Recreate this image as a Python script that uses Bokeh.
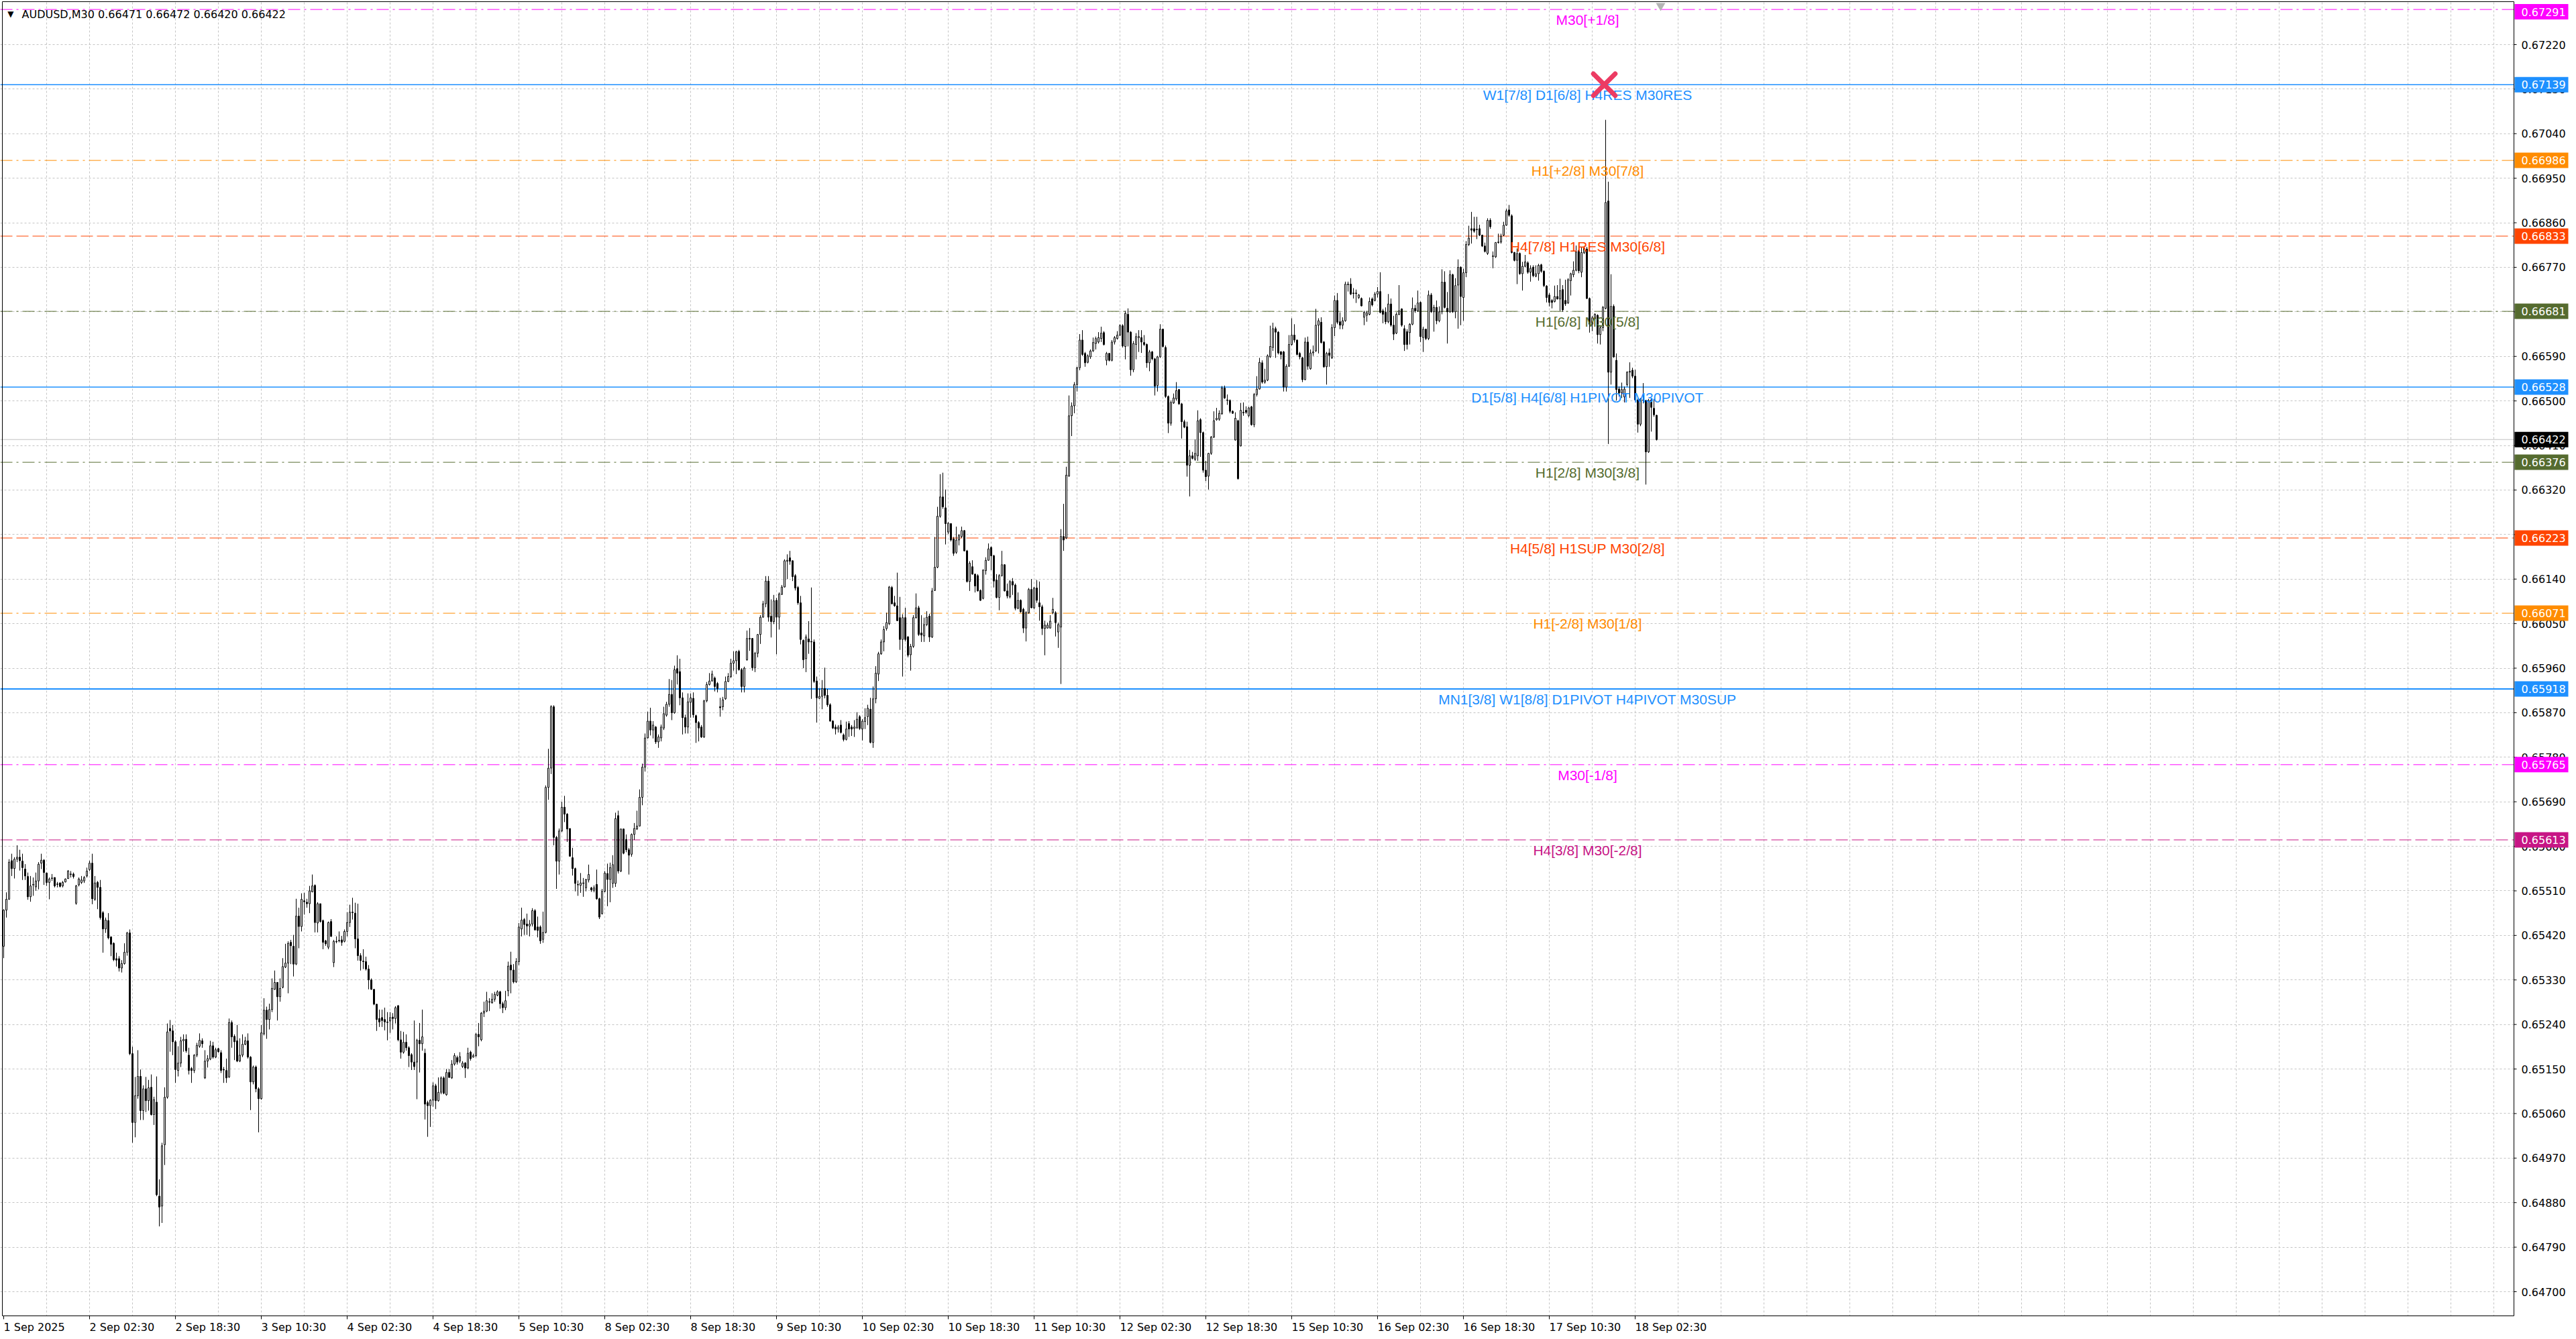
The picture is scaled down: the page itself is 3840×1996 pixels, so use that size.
from bokeh.plotting import figure
from bokeh.models import Span, FixedTicker, ColumnDataSource, Grid
from bokeh.core.properties import value
from bokeh.embed import file_html
from bokeh.resources import INLINE

chart_title = "AUDUSD,M30  0.66471 0.66472 0.66420 0.66422"

# OHLC of each M30 bar, in price points (1 point = 0.00001)
open_pts = [
65398,65471,65493,65571,65555,65574,65578,65570,65554,65539,
65498,65522,65518,65530,65566,65572,65546,65527,65535,65537,
65524,65526,65520,65528,65535,65544,65544,65485,65522,65527,
65530,65540,65553,65566,65493,65527,65517,65466,65433,65450,
65417,65404,65373,65373,65354,65363,65386,65425,65181,65042,
65096,65135,65066,65110,65086,65113,65058,65083,64893,64873,
64997,65093,65232,65227,65205,65147,65162,65207,65210,65178,
65151,65147,65178,65196,65207,65132,65166,65170,65197,65174,
65191,65183,65149,65147,65134,65244,65216,65207,65166,65178,
65200,65207,65174,65124,65154,65110,65090,65221,65269,65250,
65270,65311,65325,65296,65315,65356,65364,65406,65398,65362,
65459,65438,65490,65487,65484,65508,65521,65445,65484,65450,
65409,65396,65448,65365,65408,65410,65411,65408,65428,65446,
65467,65465,65413,65379,65368,65367,65352,65330,65311,65281,
65252,65254,65250,65245,65247,65255,65252,65278,65209,65184,
65204,65193,65179,65164,65164,65208,65201,65182,65082,65076,
65087,65116,65086,65103,65132,65098,65143,65132,65160,65173,
65166,65155,65162,65152,65184,65174,65177,65220,65209,65263,
65267,65286,65284,65291,65299,65306,65282,65274,65308,65360,
65350,65326,65367,65433,65452,65443,65439,65443,65470,65437,
65437,65412,65426,65719,65758,65882,65618,65570,65631,65679,
65665,65636,65577,65555,65523,65521,65526,65516,65532,65516,
65511,65523,65494,65464,65509,65545,65533,65525,65525,65662,
65550,65635,65614,65593,65584,65624,65635,65641,65699,65760,
65819,65853,65835,65841,65811,65819,65839,65865,65887,65907,
65870,65959,65953,65900,65860,65841,65891,65899,65864,65850,
65841,65821,65894,65927,65934,65940,65929,65882,65882,65898,
65933,65943,65970,65975,65994,65957,65923,65977,66020,66020,
65961,65990,66028,66063,66090,66136,66065,66054,66097,66063,
66109,66124,66176,66183,66177,66147,66123,66092,66016,65979,
66019,66014,66013,65934,65899,65903,65919,65905,65886,65853,
65841,65837,65845,65825,65816,65848,65841,65838,65839,65862,
65837,65852,65862,65877,65810,65898,65948,65989,66013,66040,
66050,66123,66092,66086,66062,66018,66062,66023,65987,66004,
66062,66082,66031,66025,66048,66065,66023,66117,66164,66267,
66306,66284,66235,66252,66221,66194,66219,66226,66238,66197,
66135,66165,66150,66147,66117,66101,66157,66178,66204,66187,
66138,66103,66147,66169,66116,66104,66135,66128,66081,66097,
66079,66041,66072,66119,66082,66122,66092,66084,66040,66041,
66041,66072,66072,66033,66043,66226,66223,66348,66470,66490,
66533,66567,66623,66596,66578,66589,66601,66616,66619,66626,
66638,66582,66596,66582,66619,66626,66633,66652,66610,66675,
66639,66563,66614,66628,66628,66618,66614,66577,66599,66585,
66531,66589,66645,66608,66509,66455,66496,66504,66523,66494,
66458,66448,66370,66389,66382,66389,66462,66436,66360,66348,
66394,66427,66462,66463,66474,66526,66502,66501,66479,66421,
66460,66409,66477,66481,66470,66488,66452,66513,66524,66577,
66538,66542,66589,66608,66646,66639,66599,66599,66528,66570,
66614,66633,66623,66596,66587,66543,66619,66565,66597,66601,
66653,66659,66619,66569,66597,66587,66648,66703,66660,66653,
66662,66736,66736,66718,66718,66709,66707,66669,66673,66675,
66706,66703,66716,66721,66682,66679,66660,66696,66653,66637,
66675,66686,66646,66640,66638,66655,66687,66682,66699,66628,
66645,66626,66714,66680,66689,66662,66680,66740,66687,66680,
66755,66680,66734,66770,66709,66759,66816,66848,66848,66847,
66848,66835,66813,66798,66865,66793,66791,66821,66821,66835,
66855,66886,66874,66800,66784,66798,66757,66772,66779,66760,
66770,66752,66757,66775,66762,66732,66714,66703,66701,66711,
66706,66725,66703,66698,66743,66755,66764,66804,66760,66799,
66807,66707,66655,66666,66673,66634,66648,66687,66904,66558,
66691,66582,66524,66516,66508,66533,66558,66562,66550,66502,
66453,66502,66501,66397,66502,66485,66471]

high_pts = [
65473,65507,65574,65585,65578,65602,65593,65585,65564,65547,
65540,65537,65547,65568,65585,65574,65547,65537,65544,65537,
65528,65527,65530,65535,65552,65550,65547,65522,65537,65540,
65540,65557,65571,65585,65540,65530,65532,65469,65456,65465,
65418,65406,65385,65378,65370,65404,65427,65432,65195,65134,
65188,65149,65117,65134,65128,65139,65094,65135,64927,65001,
65113,65242,65249,65239,65208,65196,65215,65220,65220,65193,
65154,65180,65203,65222,65212,65188,65178,65207,65205,65193,
65193,65188,65154,65171,65252,65248,65220,65239,65212,65220,
65215,65222,65176,65157,65157,65113,65239,65293,65276,65282,
65333,65349,65325,65333,65374,65403,65408,65411,65421,65494,
65476,65505,65506,65494,65520,65543,65523,65487,65484,65452,
65411,65448,65453,65411,65418,65428,65419,65432,65467,65482,
65496,65486,65484,65384,65392,65377,65360,65333,65311,65281,
65270,65270,65274,65265,65265,65263,65277,65279,65227,65225,
65220,65196,65182,65248,65211,65243,65270,65191,65086,65089,
65123,65120,65133,65135,65135,65150,65150,65168,65182,65177,
65184,65166,65164,65193,65187,65181,65223,65243,65265,65286,
65306,65293,65303,65306,65309,65308,65286,65308,65367,65387,
65362,65374,65445,65476,65455,65464,65451,65475,65473,65458,
65440,65468,65723,65797,65885,65885,65621,65636,65690,65702,
65667,65636,65597,65557,65531,65546,65536,65534,65563,65518,
65521,65553,65496,65514,65550,65565,65567,65582,65668,65672,
65636,65636,65624,65597,65626,65647,65672,65715,65767,65828,
65872,65880,65853,65843,65826,65846,65882,65892,65938,65936,
65965,65986,65979,65911,65866,65909,65909,65911,65866,65853,
65845,65896,65932,65950,65955,65943,65932,65900,65902,65943,
65950,65979,65994,65995,65997,65960,65963,66036,66041,66021,
65993,66029,66067,66096,66146,66146,66099,66108,66102,66113,
66128,66180,66190,66197,66178,66150,66126,66106,66018,66028,
66055,66123,66018,65943,65919,65936,65961,65918,65889,65855,
65846,65845,65855,65828,65852,65853,65845,65855,65871,65865,
65857,65879,65886,65900,65923,65964,65993,66018,66045,66072,
66126,66126,66106,66153,66104,66069,66082,66025,66009,66067,
66111,66086,66067,66062,66075,66070,66122,66225,66286,66352,
66355,66321,66255,66253,66225,66246,66231,66246,66239,66199,
66176,66178,66151,66150,66119,66160,66184,66212,66206,66189,
66150,66150,66197,66170,66131,66138,66142,66131,66113,66099,
66082,66075,66122,66140,66124,66138,66135,66088,66056,66052,
66067,66102,66075,66052,66241,66292,66367,66511,66497,66538,
66569,66635,66643,66599,66594,66604,66628,66630,66639,66650,
66641,66599,66597,66623,66631,66641,66655,66655,66682,66687,
66641,66621,66637,66643,66643,66633,66616,66603,66601,66587,
66591,66655,66646,66612,66511,66501,66515,66538,66524,66496,
66462,66458,66401,66397,66422,66481,66465,66438,66379,66395,
66429,66479,66486,66481,66530,66531,66513,66503,66481,66477,
66462,66496,66497,66489,66488,66490,66516,66550,66587,66582,
66565,66594,66652,66658,66650,66641,66601,66601,66574,66633,
66667,66655,66624,66599,66589,66628,66630,66604,66612,66686,
66667,66669,66621,66599,66606,66655,66713,66718,66679,66669,
66741,66741,66748,66728,66725,66716,66709,66682,66682,66709,
66709,66720,66730,66760,66686,66689,66716,66707,66672,66679,
66734,66687,66653,66645,66657,66709,66694,66723,66701,66650,
66646,66723,66718,66694,66703,66691,66766,66762,66720,66764,
66757,66748,66786,66772,66767,66823,66854,66882,66872,66872,
66856,66836,66820,66869,66869,66802,66821,66838,66838,66862,
66888,66896,66877,66801,66808,66800,66781,66795,66782,66774,
66774,66774,66777,66777,66764,66734,66718,66706,66733,66734,
66747,66734,66745,66748,66759,66782,66814,66807,66811,66813,
66811,66709,66672,66677,66675,66653,66692,67068,66943,66756,
66695,66596,66529,66537,66529,66560,66578,66567,66563,66506,
66506,66536,66502,66504,66506,66504,66472]

low_pts = [
65374,65456,65492,65540,65535,65568,65551,65532,65532,65492,
65488,65500,65510,65513,65554,65522,65520,65493,65530,65517,
65517,65517,65517,65527,65534,65537,65535,65482,65519,65524,
65526,65537,65550,65483,65490,65473,65452,65385,65425,65412,
65378,65368,65357,65347,65345,65361,65379,65178,65001,65012,
65090,65047,65047,65063,65066,65056,65037,64893,64832,64839,
64956,65090,65185,65178,65122,65135,65154,65185,65183,65139,
65122,65142,65174,65193,65193,65130,65153,65168,65171,65172,
65183,65142,65122,65122,65132,65193,65168,65164,65164,65174,
65198,65171,65067,65119,65103,65022,65088,65218,65211,65230,
65265,65310,65248,65286,65313,65354,65303,65362,65337,65360,
65394,65428,65462,65476,65465,65507,65426,65426,65446,65392,
65399,65392,65417,65356,65404,65406,65399,65406,65418,65437,
65452,65394,65369,65349,65352,65349,65311,65310,65279,65227,
65235,65235,65228,65208,65223,65230,65242,65206,65171,65181,
65187,65154,65148,65148,65089,65143,65187,65048,65013,65033,
65074,65069,65084,65099,65099,65096,65132,65130,65157,65159,
65162,65152,65132,65150,65167,65173,65174,65196,65206,65255,
65265,65267,65282,65286,65297,65272,65263,65269,65297,65303,
65323,65324,65360,65418,65421,65421,65418,65438,65430,65416,
65403,65405,65424,65694,65746,65602,65514,65543,65629,65649,
65609,65579,65541,65509,65500,65506,65498,65509,65527,65508,
65507,65492,65453,65462,65507,65479,65487,65516,65518,65545,
65548,65584,65588,65543,65579,65613,65633,65640,65683,65751,
65818,65824,65818,65807,65799,65812,65835,65862,65882,65855,
65868,65927,65885,65826,65828,65828,65860,65860,65809,65812,
65819,65819,65891,65925,65933,65913,65911,65862,65875,65896,
65932,65940,65955,65948,65955,65911,65911,65975,65995,65955,
65952,65982,66009,66062,66083,66054,66022,66049,65988,66038,
66108,66123,66140,66169,66136,66117,66088,66008,65960,65952,
65989,65898,65930,65850,65898,65877,65899,65882,65852,65837,
65826,65830,65828,65812,65814,65821,65823,65821,65838,65835,
65814,65837,65845,65808,65799,65889,65934,65987,65994,66036,
66047,66089,66084,66055,65997,65943,66014,65982,65955,66001,
66060,66025,66013,66013,66045,66013,66021,66116,66162,66264,
66282,66210,66231,66216,66187,66191,66208,66223,66196,66133,
66116,66149,66113,66115,66096,66099,66149,66177,66158,66123,
66101,66077,66145,66115,66101,66101,66108,66077,66079,66072,
66031,66014,66070,66081,66079,66092,66056,66027,65986,66040,
66040,66069,66024,66001,65928,66197,66221,66347,66429,66475,
66519,66562,66591,66569,66576,66585,66599,66604,66616,66619,
66612,66572,66580,66580,66614,66624,66631,66608,66584,66610,
66551,66558,66584,66599,66597,66611,66567,66560,66582,66511,
66519,66587,66608,66506,66435,66450,66494,66501,66492,66424,
66445,66347,66307,66382,66379,66379,66387,66355,66338,66321,
66391,66425,66460,66460,66472,66504,66492,66475,66474,66420,
66341,66408,66470,66474,66467,66450,66447,66509,66523,66535,
66535,66540,66587,66601,66587,66594,66584,66519,66519,66569,
66612,66618,66592,66584,66538,66542,66563,66563,66591,66599,
66596,66616,66567,66533,66569,66585,66631,66655,66645,66645,
66660,66721,66714,66707,66698,66706,66691,66653,66660,66673,
66691,66701,66709,66677,66657,66655,66657,66650,66623,66635,
66673,66650,66601,66604,66614,66653,66678,66680,66619,66599,
66623,66623,66678,66640,66655,66659,66675,66687,66616,66678,
66678,66667,66646,66653,66662,66750,66813,66818,66840,66827,
66833,66811,66800,66795,66848,66768,66789,66818,66818,66833,
66854,66872,66798,66782,66736,66755,66723,66770,66757,66741,
66750,66750,66743,66759,66730,66699,66691,66687,66699,66705,
66682,66680,66692,66696,66713,66750,66762,66758,66750,66797,
66706,66638,66641,66658,66616,66614,66641,66685,66413,66533,
66587,66501,66509,66506,66497,66529,66506,66546,66501,66436,
66449,66495,66331,66395,66438,66468,66420]

close_pts = [
65471,65493,65568,65555,65574,65578,65571,65557,65540,65498,
65520,65523,65530,65564,65572,65547,65527,65534,65536,65520,
65523,65519,65527,65534,65550,65543,65539,65520,65534,65532,
65537,65550,65566,65494,65526,65517,65456,65433,65451,65415,
65402,65371,65370,65354,65363,65386,65425,65181,65042,65096,
65135,65066,65110,65086,65112,65058,65088,64896,64871,64995,
65093,65225,65227,65205,65149,65162,65207,65210,65187,65147,
65147,65178,65198,65208,65201,65166,65171,65197,65174,65189,
65185,65147,65148,65132,65244,65215,65205,65166,65178,65200,
65207,65174,65124,65154,65110,65090,65223,65269,65250,65270,
65313,65325,65296,65313,65357,65364,65404,65399,65362,65459,
65438,65493,65488,65484,65510,65520,65446,65484,65448,65406,
65403,65446,65418,65408,65407,65409,65406,65428,65446,65467,
65466,65413,65379,65369,65367,65352,65330,65311,65281,65250,
65245,65248,65245,65244,65254,65252,65274,65209,65184,65204,
65193,65177,65164,65155,65208,65201,65215,65079,65076,65087,
65116,65086,65103,65132,65101,65143,65133,65160,65177,65164,
65175,65162,65152,65182,65171,65177,65220,65215,65263,65267,
65288,65285,65291,65301,65306,65282,65274,65288,65358,65350,
65326,65367,65437,65451,65442,65439,65443,65470,65431,65430,
65409,65426,65719,65758,65882,65618,65570,65631,65679,65665,
65635,65580,65555,65525,65522,65526,65525,65533,65543,65512,
65516,65494,65457,65509,65546,65533,65557,65563,65656,65550,
65635,65586,65593,65582,65624,65636,65641,65699,65760,65819,
65853,65835,65845,65811,65821,65841,65868,65887,65907,65870,
65957,65950,65900,65860,65841,65892,65900,65866,65850,65839,
65821,65894,65927,65934,65948,65923,65919,65880,65896,65933,
65943,65970,65975,65993,65957,65923,65960,66020,66019,65961,
65990,66028,66063,66090,66136,66063,66054,66096,66063,66110,
66124,66177,66178,66176,66145,66122,66092,66018,65977,66023,
66013,66013,65933,65900,65903,65919,65905,65886,65853,65839,
65837,65841,65830,65816,65837,65837,65837,65841,65857,65838,
65853,65860,65879,65810,65898,65950,65989,66013,66038,66052,
66124,66090,66086,66056,66018,66062,66018,65986,66004,66062,
66082,66028,66027,66048,66063,66023,66116,66164,66267,66306,
66286,66252,66253,66219,66192,66219,66228,66238,66197,66135,
66172,66150,66126,66116,66097,66158,66178,66201,66187,66136,
66103,66147,66169,66116,66106,66135,66128,66081,66097,66074,
66041,66072,66119,66082,66122,66097,66084,66040,66047,66047,
66055,66079,66052,66048,66226,66219,66350,66470,66490,66533,
66567,66623,66594,66577,66591,66601,66618,66626,66628,66637,
66614,66596,66582,66619,66628,66633,66652,66611,66677,66639,
66563,66616,66630,66630,66619,66614,66577,66599,66585,66530,
66589,66645,66610,66509,66455,66497,66506,66521,66494,66458,
66447,66370,66389,66384,66394,66460,66436,66360,66347,66394,
66427,66460,66465,66475,66526,66506,66501,66479,66475,66465,
66343,66481,66476,66477,66486,66452,66513,66524,66578,66538,
66542,66591,66610,66646,66639,66597,66594,66528,66570,66614,
66633,66623,66594,66589,66543,66619,66570,66597,66599,66653,
66662,66618,66569,66596,66592,66648,66703,66659,66653,66662,
66736,66735,66716,66717,66717,66714,66692,66679,66678,66701,
66694,66716,66721,66679,66675,66660,66696,66653,66635,66675,
66682,66653,66614,66614,66655,66687,66682,66698,66630,66645,
66626,66714,66680,66689,66662,66680,66740,66689,66680,66755,
66680,66733,66770,66711,66759,66816,66829,66845,66843,66846,
66835,66813,66802,66865,66852,66792,66820,66820,66833,66855,
66884,66875,66800,66784,66798,66757,66772,66781,66760,66768,
66753,66757,66774,66762,66733,66709,66699,66699,66711,66706,
66723,66684,66696,66745,66757,66764,66801,66763,66800,66809,
66707,66655,66668,66675,66634,66648,66689,66901,66558,66691,
66589,66523,66516,66523,66524,66558,66560,66550,66502,66453,
66504,66501,66397,66501,66487,66472,66422]

time_tick_bars = [0, 32, 64, 96, 128, 160, 192, 224, 256, 288,
                  320, 352, 384, 416, 448, 480, 512, 544, 576, 608]
time_tick_labels = ["1 Sep 2025", "2 Sep 02:30", "2 Sep 18:30", "3 Sep 10:30",
                    "4 Sep 02:30", "4 Sep 18:30", "5 Sep 10:30", "8 Sep 02:30",
                    "8 Sep 18:30", "9 Sep 10:30", "10 Sep 02:30", "10 Sep 18:30",
                    "11 Sep 10:30", "12 Sep 02:30", "12 Sep 18:30", "15 Sep 10:30",
                    "16 Sep 02:30", "16 Sep 18:30", "17 Sep 10:30", "18 Sep 02:30"]

price_ticks = [0.64700, 0.64790, 0.64880, 0.64970, 0.65060, 0.65150, 0.65240,
               0.65330, 0.65420, 0.65510, 0.65600, 0.65690, 0.65780, 0.65870,
               0.65960, 0.66050, 0.66140, 0.66230, 0.66320, 0.66410, 0.66500,
               0.66590, 0.66680, 0.66770, 0.66860, 0.66950, 0.67040, 0.67130,
               0.67220]
price_tick_labels = ["%.5f" % t for t in price_ticks]

level_prices = [0.67291, 0.67139, 0.66986, 0.66833, 0.66681, 0.66528,
                0.66376, 0.66223, 0.66071, 0.65918, 0.65765, 0.65613]
level_names = ["M30[+1/8]", "W1[7/8] D1[6/8] H4RES M30RES", "H1[+2/8] M30[7/8]",
               "H4[7/8] H1RES M30[6/8]", "H1[6/8] M30[5/8]",
               "D1[5/8] H4[6/8] H1PIVOT M30PIVOT", "H1[2/8] M30[3/8]",
               "H4[5/8] H1SUP M30[2/8]", "H1[-2/8] M30[1/8]",
               "MN1[3/8] W1[8/8] D1PIVOT H4PIVOT M30SUP", "M30[-1/8]",
               "H4[3/8] M30[-2/8]"]
level_colors = ["#ff00ff", "#1e90ff", "#ff8c00", "#ff4500", "#556b2f", "#1e90ff",
                "#556b2f", "#ff4500", "#ff8c00", "#1e90ff", "#ff00ff", "#c71585"]
level_dashes = ["18 6 3 6", "solid", "18 6 3 6", "18 6", "18 6 3 6", "solid",
                "18 6 3 6", "18 6", "18 6 3 6", "solid", "18 6 3 6", "18 6"]
level_widths = [1, 1.3, 1, 1, 1, 1.3, 1, 1, 1, 2, 1, 1]

bid_price = 0.66422
marker_bar = 596.5
marker_price = 0.67139
level_label_bar = 590.25
shift_marker_bar = 617.5

PT = 1e-5
n = len(close_pts)
xs = list(range(n))
o = [v * PT for v in open_pts]
h = [v * PT for v in high_pts]
l = [v * PT for v in low_pts]
c = [v * PT for v in close_pts]

src = ColumnDataSource(dict(
    x=xs, o=o, h=h, l=l, c=c,
    top=[max(a, b) for a, b in zip(o, c)],
    bottom=[min(a, b) for a, b in zip(o, c)],
    fill=["white" if cc >= oo else "black" for oo, cc in zip(o, c)],
))

# ---- geometry (4 px per bar, 73770 px per price unit) ----
W, H = 3836, 1992
PPB = 4.0
PPU = 73770.0
X0 = -1.25
X1 = X0 + W / PPB
Y1 = 0.6722 + 66.0 / PPU
Y0 = Y1 - H / PPU
X_LEFT = X0 + 3.0 / PPB            # chart-area left border
X_BORDER = X0 + 3747.0 / PPB       # chart-area right border
Y_TOP = Y1 - 2.0 / PPU             # chart-area top border
Y_BOT = Y1 - 1961.0 / PPU          # chart-area bottom border

p = figure(width=W, height=H, x_range=(X0, X1), y_range=(Y0, Y1),
           output_backend="svg", toolbar_location=None,
           x_axis_location=None, y_axis_location=None,
           min_border_left=0, min_border_right=0, min_border_top=0, min_border_bottom=0,
           background_fill_color="white", border_fill_color="white",
           outline_line_color=None)
p.grid.visible = False

gx = Grid(dimension=0, ticker=FixedTicker(ticks=list(range(16, 935, 16))),
          grid_line_color="#c4c4c4", grid_line_dash="3 3")
gy = Grid(dimension=1, ticker=FixedTicker(ticks=price_ticks),
          grid_line_color="#c4c4c4", grid_line_dash="3 3")
p.add_layout(gx)
p.add_layout(gy)

# level lines
for price, col, dash, w in zip(level_prices, level_colors, level_dashes, level_widths):
    p.add_layout(Span(location=price, dimension="width", line_color=col,
                      line_dash=dash, line_width=w, level="underlay"))
p.add_layout(Span(location=bid_price, dimension="width", line_color="#c0c0c0",
                  line_width=1, level="underlay"))

# white margins (price scale strip on the right, time scale strip below, top edge)
p.quad(left=[X_BORDER, X0, X0], right=[X1, X1, X1], bottom=[Y0, Y0, Y_TOP],
       top=[Y1, Y_BOT, Y1], fill_color="white", line_color=None)

# candles
p.segment(x0="x", y0="l", x1="x", y1="h", source=src, line_color="black", line_width=1)
p.vbar(x="x", top="top", bottom="bottom", width=0.5, fill_color="fill",
       line_color="black", line_width=1, source=src)

# level names
lsrc = ColumnDataSource(dict(x=[level_label_bar] * len(level_prices), y=level_prices,
                             text=level_names, color=level_colors))
p.text(x="x", y="y", text="text", text_color="color", source=lsrc,
       text_align="center", text_baseline="top", y_offset=4,
       text_font=value("Liberation Sans"), text_font_size=value("21px"))

# marker
p.scatter(x=[marker_bar], y=[marker_price], marker="x", size=46,
          line_color="#ec3b63", line_width=7, line_cap="round")

# chart-area border
p.segment(x0=[X_LEFT, X_LEFT, X_BORDER, X_LEFT], y0=[Y_TOP, Y_BOT, Y_BOT, Y_TOP],
          x1=[X_BORDER, X_BORDER, X_BORDER, X_LEFT], y1=[Y_TOP, Y_BOT, Y_TOP, Y_BOT],
          line_color="black", line_width=1)

# chart-shift marker at the top edge
p.scatter(x=[shift_marker_bar], y=[Y_TOP - 6.0 / PPU], marker="inverted_triangle",
          size=14, fill_color="#b4b4b4", line_color=None)

# price scale: ticks and labels
p.segment(x0=[X_BORDER] * len(price_ticks), x1=[X_BORDER + 1.0] * len(price_ticks),
          y0=price_ticks, y1=price_ticks, line_color="black", line_width=1)
p.text(x=[X_BORDER] * len(price_ticks), y=price_ticks, text=price_tick_labels,
       x_offset=11, text_align="left", text_baseline="middle",
       text_font=value("DejaVu Sans"), text_font_size=value("16px"), text_color="black")

# time scale: ticks and labels
p.segment(x0=time_tick_bars, x1=time_tick_bars, y0=[Y_BOT] * len(time_tick_bars),
          y1=[Y_BOT - 5.0 / PPU] * len(time_tick_bars), line_color="black", line_width=1)
p.text(x=time_tick_bars, y=[Y_BOT] * len(time_tick_bars), text=time_tick_labels,
       y_offset=7, text_align="left", text_baseline="top",
       text_font=value("DejaVu Sans"), text_font_size=value("16px"), text_color="black")

# coloured price boxes on the price scale (kept inside the top edge)
box_prices = level_prices[:6] + [bid_price] + level_prices[6:]
box_colors = level_colors[:6] + ["black"] + level_colors[6:]
box_texts = ["%.5f" % v for v in box_prices]
box_y = [min(v, Y1 - 17.0 / PPU) for v in box_prices]
p.rect(x=[X_BORDER + 10.25] * len(box_prices), y=box_y, width=80, height=23,
       width_units="screen", height_units="screen", fill_color=box_colors, line_color=None)
p.text(x=[X_BORDER] * len(box_prices), y=box_y, text=box_texts, x_offset=11,
       text_align="left", text_baseline="middle", text_color="white",
       text_font=value("DejaVu Sans"), text_font_size=value("16px"))

# title
p.text(x=[2.6], y=[Y1], text=["\u25bc"], text_align="center", text_baseline="top",
       y_offset=13, text_font=value("DejaVu Sans"), text_font_size=value("12px"),
       text_color="black")
p.text(x=[6.75], y=[Y1], text=[chart_title], text_baseline="top", y_offset=11,
       text_font=value("DejaVu Sans"), text_font_size=value("16px"), text_color="black")

open("out.html", "w").write(file_html(p, INLINE))
